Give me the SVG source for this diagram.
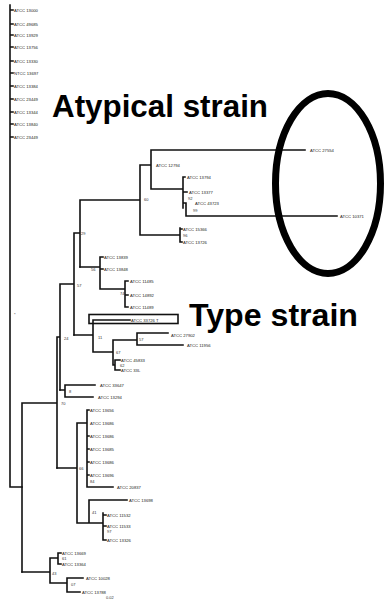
<svg xmlns="http://www.w3.org/2000/svg" width="384" height="601" viewBox="0 0 384 601">
<style>
.br{fill:none;stroke:#111;stroke-width:1.6;stroke-linecap:square}
.lb{font-family:"Liberation Sans",Arial,sans-serif;font-size:4.2px;fill:#222}
.bs{font-family:"Liberation Sans",Arial,sans-serif;font-size:4px;fill:#333}
.big{font-family:"Liberation Sans",Arial,sans-serif;font-weight:bold;font-size:31.5px;fill:#000}
</style>
<rect width="384" height="601" fill="#fff"/>
<g id="connectors">
<path class="br" d="M10,5V487H22M10,10H13M10,24H13M10,35H13M10,47H13M10,61H13M10,73H13M10,86H13M10,99H13M10,112H13M10,124H13M10,137H13"/>
<path class="br" d="M22,403V572M22,403H57M57,337V468M57,337H60M60,284V390M60,284H74M74,233V335M74,233H80M80,200V267M80,200H140M140,165V235M140,165H151M151,150V189M151,150H305M151,189H183M183,177V208M183,177H185M183,192H187M183,203H186M186,203V216M186,216H337M140,235H180M180,228V242M180,229H182M180,242H182"/>
<path class="br" d="M80,267H100M100,257V289M100,257H103M100,269H103M100,289H125M125,281V307M125,281H128M125,295H128M125,307H128"/>
<path class="br" d="M74,335H93M93,320V352M93,320H130M93,352H113M113,340V365M113,340H137M137,333V345M137,333H168M137,345H183M113,365H115M115,360V370M115,360H120M115,370H120"/>
<path class="br" d="M60,390H65M65,385V397M65,385H95M65,397H93"/>
<path class="br" d="M57,468H77M77,423V523M77,423H87M87,410V487M87,410H89M87,436H89M87,449H89M87,462H89M87,475H89M87,487H113M77,523H103M89,500V523M89,500H127M103,513V540M103,515H106M103,526H106M103,540H106"/>
<path class="br" d="M22,572H50M50,558V583M50,558H58M58,553V564M58,553H61M58,564H61M50,583H67M67,578V592M67,578H83M67,592H80"/>
<rect x="89" y="314.5" width="89" height="9" fill="none" stroke="#111" stroke-width="1.6"/>
</g>
<g id="leaf-top">
<text class="lb" x="14" y="11.5">ATCC 13000</text>
<text class="lb" x="14" y="25.5">ATCC 49685</text>
<text class="lb" x="14" y="36.5">ATCC 13929</text>
<text class="lb" x="14" y="48.5">ATCC 13756</text>
<text class="lb" x="14" y="62.5">ATCC 13330</text>
<text class="lb" x="14" y="74.5">NTCC 13697</text>
<text class="lb" x="14" y="87.5">ATCC 13384</text>
<text class="lb" x="14" y="100.5">ATCC 23449</text>
<text class="lb" x="14" y="113.5">ATCC 13344</text>
<text class="lb" x="14" y="125.5">ATCC 13840</text>
<text class="lb" x="14" y="138.5">ATCC 23449</text>
</g>
<g id="clade-atypical">
<text class="lb" x="310" y="151.5">ATCC 27554</text>
<text class="lb" x="156" y="166.5">ATCC 12794</text>
<text class="lb" x="187" y="178.5">ATCC 13794</text>
<text class="lb" x="189" y="193.5">ATCC 13377</text>
<text class="lb" x="195" y="204.5">ATCC 43723</text>
<text class="bs" x="193" y="211.5">99</text>
<text class="bs" x="188" y="200">92</text>
<text class="lb" x="340" y="217.5">ATCC 10371</text>
<text class="bs" x="144" y="201">60</text>
<text class="lb" x="183" y="230.5">ATCC 15366</text>
<text class="bs" x="183" y="236.5">96</text>
<text class="lb" x="183" y="243.5">ATCC 13726</text>
</g>
<g id="clade-2">
<text class="bs" x="81" y="234.5">29</text>
<text class="lb" x="104" y="258.5">ATCC 13839</text>
<text class="lb" x="104" y="270.5">ATCC 13848</text>
<text class="bs" x="91" y="271">56</text>
<text class="lb" x="130" y="282.5">ATCC 11485</text>
<text class="bs" x="120" y="294.5">74</text>
<text class="lb" x="130" y="296.5">ATCC 14892</text>
<text class="lb" x="130" y="308.5">ATCC 11489</text>
<text class="bs" x="77" y="286.5">57</text>
</g>
<g id="type-strain">
<text class="lb" x="131" y="321.5">ATCC 33726 T</text>
<text class="bs" x="98" y="338.5">11</text>
<text class="lb" x="171" y="336.5" font-size="4">ATCC 27902</text>
<text class="bs" x="139" y="340.5">57</text>
<text class="lb" x="187" y="346.5">ATCC 11956</text>
<text class="bs" x="116" y="353.5">67</text>
<text class="lb" x="121" y="361.5">ATCC 45833</text>
<text class="bs" x="120" y="366.5">62</text>
<text class="lb" x="121" y="371.5">ATCC 33L</text>
<text class="bs" x="64" y="339.5">24</text>
</g>
<g id="clade-3">
<text class="lb" x="100" y="386.5">ATCC 33647</text>
<text class="bs" x="69" y="392.5">8</text>
<text class="lb" x="98" y="398.5">ATCC 13294</text>
<text class="bs" x="61" y="404.5">70</text>
</g>
<g id="clade-4">
<text class="lb" x="90" y="411.5">ATCC 13656</text>
<text class="lb" x="90" y="424.5">ATCC 13686</text>
<text class="lb" x="90" y="437.5">ATCC 13686</text>
<text class="lb" x="90" y="450.5">ATCC 13685</text>
<text class="lb" x="90" y="463.5">ATCC 13686</text>
<text class="lb" x="90" y="476.5">ATCC 13696</text>
<text class="bs" x="90" y="482.5">84</text>
<text class="lb" x="117" y="488.5">ATCC 20837</text>
<text class="bs" x="79" y="469.5">66</text>
<text class="lb" x="129" y="501.5">ATCC 13698</text>
<text class="bs" x="92" y="513.5">41</text>
<text class="lb" x="107" y="516.5">ATCC 11532</text>
<text class="lb" x="107" y="527.5">ATCC 11533</text>
<text class="bs" x="107" y="533">97</text>
<text class="lb" x="107" y="541.5">ATCC 13326</text>
</g>
<g id="clade-5">
<text class="lb" x="62" y="554.5">ATCC 13669</text>
<text class="bs" x="62" y="560">61</text>
<text class="lb" x="62" y="565.5">ATCC 13364</text>
<text class="bs" x="52" y="574.5">43</text>
<text class="lb" x="86" y="579.5">ATCC 10028</text>
<text class="bs" x="71" y="585.5">07</text>
<text class="lb" x="82" y="593.5">ATCC 13788</text>
<text class="bs" x="106" y="599">0.02</text>
<text class="bs" x="14" y="315.5">*</text>
</g>
<g id="annotations">
<text class="big" x="52" y="117" textLength="216" lengthAdjust="spacingAndGlyphs">Atypical strain</text>
<text class="big" x="189" y="325.5" textLength="169" lengthAdjust="spacingAndGlyphs">Type strain</text>
<ellipse cx="328" cy="183.5" rx="52.5" ry="90" fill="none" stroke="#000" stroke-width="7"/>
</g>
</svg>
